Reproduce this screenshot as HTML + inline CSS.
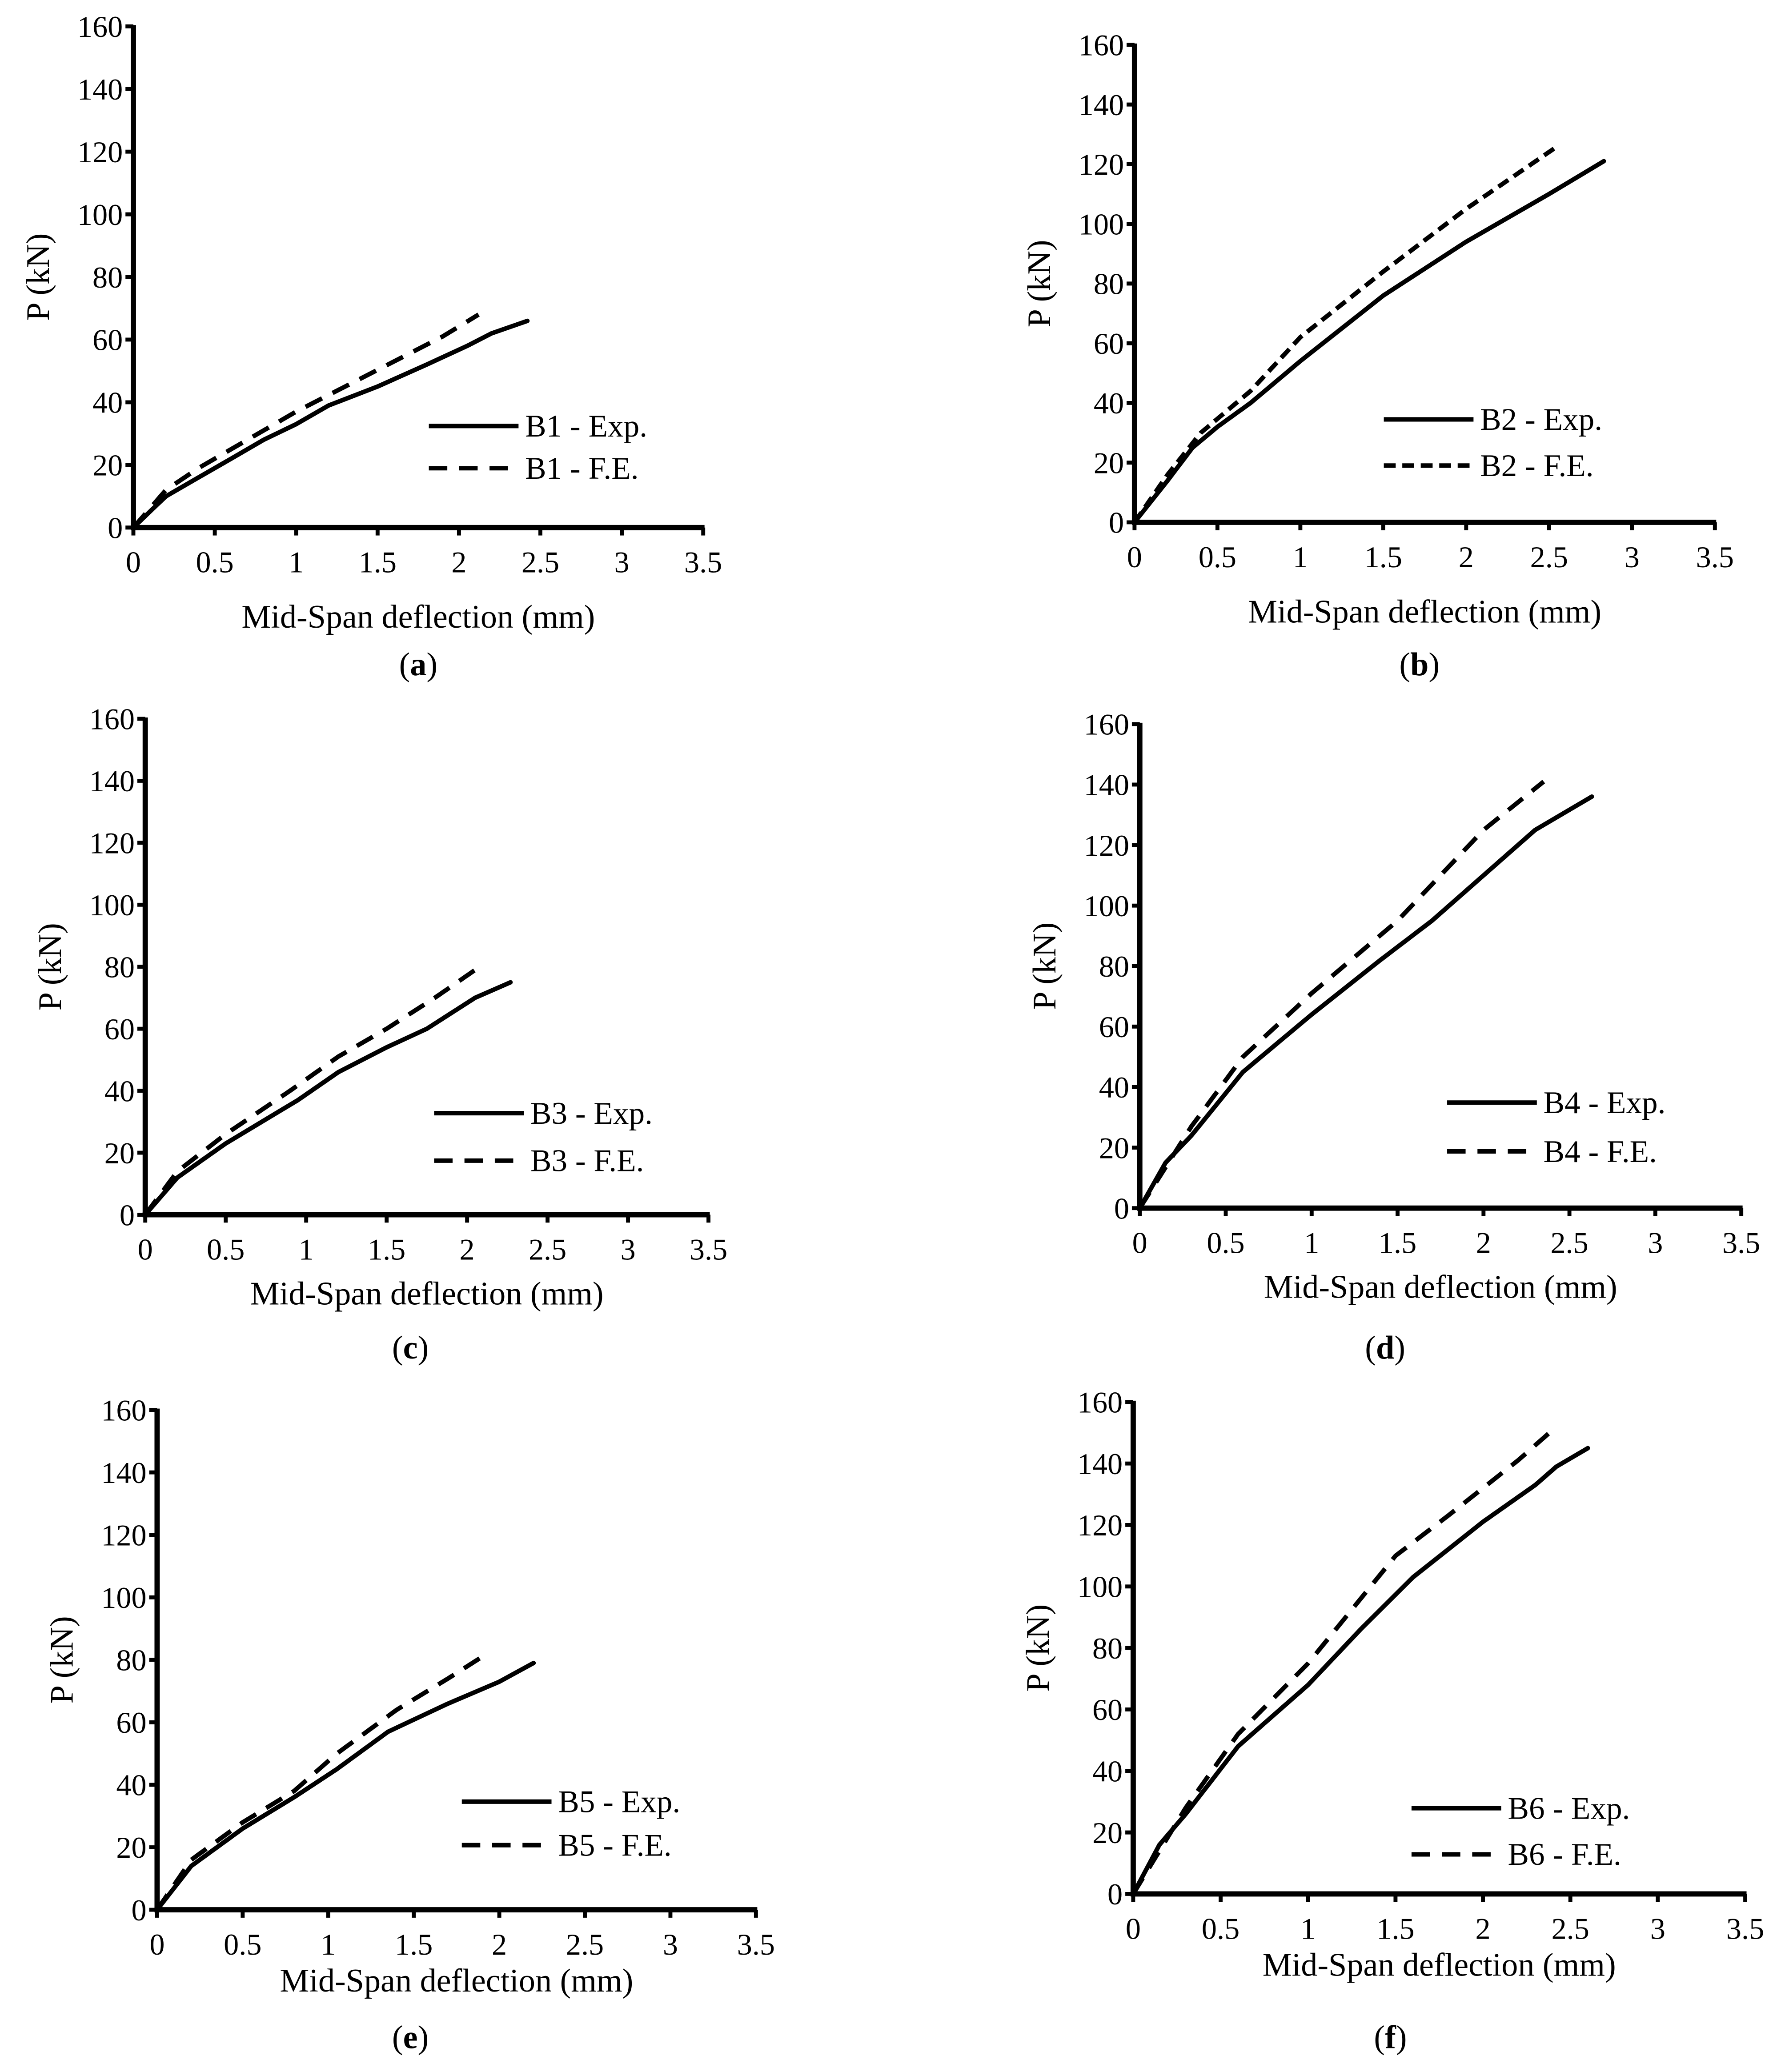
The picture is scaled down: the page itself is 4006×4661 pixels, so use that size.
<!DOCTYPE html>
<html><head><meta charset="utf-8"><style>
html,body{margin:0;padding:0;background:#fff;}
svg{display:block;}
text{font-family:"Liberation Serif","Times New Roman",serif;fill:#000;}
</style></head><body>
<svg id="fig" width="4006" height="4661" viewBox="0 0 1350 1571" xmlns="http://www.w3.org/2000/svg"></svg>
<script>
const xTicks=[0,0.5,1,1.5,2,2.5,3,3.5];
const xTickLabels=["0","0.5","1","1.5","2","2.5","3","3.5"];
const yTicks=[0,20,40,60,80,100,120,140,160];
const yTickLabels=["0","20","40","60","80","100","120","140","160"];
const panelIds=["a","b","c","d","e","f"];
const beamNames=["B1","B2","B3","B4","B5","B6"];
const aExpX=[0,0.1,0.2,0.4,0.6,0.8,1,1.2,1.5,1.8,2.05,2.2,2.42];
const aExpY=[0,5,10,16,22,28,33,39,45,52,58,62,66];
const aFeX=[0,0.2,0.4,0.6,0.8,1,1.3,1.6,1.9,2.12];
const aFeY=[0,12,19,25,31,37,45,53,61,68];
const bExpX=[0,0.2,0.35,0.5,0.7,1,1.5,2,2.5,2.83];
const bExpY=[0,14,25,32,40,54,76,94,110,121];
const bFeX=[0,0.2,0.4,0.7,1,1.5,2,2.55];
const bFeY=[0,16,30,44,62,84,105,126];
const cExpX=[0,0.2,0.5,0.95,1.2,1.5,1.75,2.05,2.27];
const cExpY=[0,12,23,37,46,54,60,70,75];
const cFeX=[0,0.2,0.5,0.9,1.2,1.5,1.8,2.05];
const cFeY=[0,14,26,40,51,60,70,79];
const dExpX=[0,0.15,0.3,0.6,1,1.4,1.7,2,2.3,2.63];
const dExpY=[0,15,24,45,64,82,95,110,125,136];
const dFeX=[0,0.3,0.6,1,1.5,2,2.35];
const dFeY=[0,27,50,71,95,125,141];
const eExpX=[0,0.2,0.5,0.8,1.05,1.35,1.7,2,2.2];
const eExpY=[0,14,26,36,45,57,66,73,79];
const eFeX=[0,0.2,0.5,0.8,1.05,1.4,1.7,1.9];
const eFeY=[0,16,28,38,50,64,74,81];
const fExpX=[0,0.15,0.3,0.6,1,1.3,1.6,2,2.3,2.42,2.6];
const fExpY=[0,16,26,48,68,86,103,121,133,139,145];
const fFeX=[0,0.3,0.6,1,1.5,1.8,2.2,2.4];
const fFeY=[0,28,52,75,110,123,141,151];

const series={a:[aExpX,aExpY,aFeX,aFeY],b:[bExpX,bExpY,bFeX,bFeY],c:[cExpX,cExpY,cFeX,cFeY],d:[dExpX,dExpY,dFeX,dFeY],e:[eExpX,eExpY,eFeX,eFeY],f:[fExpX,fExpY,fFeX,fFeY]};
const layout={
 a:{x0:101,x1:533,y0:400,y1:20,lx:325,ly1:323,ly2:355,cx:317,cy:512,dash:"14 9",tdy:76},
 b:{x0:860,x1:1300,y0:396,y1:34,lx:1049,ly1:318,ly2:353,cx:1076,cy:512,dash:"9 5",tdy:76},
 c:{x0:110,x1:537,y0:921,y1:545,lx:329,ly1:844,ly2:880,cx:311,cy:1030,dash:"14 9",tdy:68},
 d:{x0:864,x1:1320,y0:916,y1:549,lx:1097,ly1:836,ly2:873,cx:1050,cy:1030,dash:"14 9",tdy:68},
 e:{x0:119,x1:573,y0:1448,y1:1069,lx:350,ly1:1366,ly2:1399,cx:311,cy:1553,dash:"14 9",tdy:62},
 f:{x0:859,x1:1323,y0:1436,y1:1063,lx:1070,ly1:1371,ly2:1406,cx:1054,cy:1553,dash:"14 9",tdy:62}
};
const FF='"Liberation Serif","Times New Roman",serif';
const NS="http://www.w3.org/2000/svg";
const svg=document.getElementById('fig');
function mk(tag,attrs,parent){const e=document.createElementNS(NS,tag);for(const k in attrs)e.setAttribute(k,attrs[k]);if(tag==='text')e.setAttribute('font-family',FF);(parent||svg).appendChild(e);return e;}
panelIds.forEach((id,i)=>{
 const L=layout[id];
 const g=mk('g',{});
 
 
 const sx=v=>L.x0+(L.x1-L.x0)*v/3.5;
 const sy=v=>L.y0+(L.y1-L.y0)*v/160;
 const ya=mk('line',{x1:L.x0,y1:L.y0,x2:L.x0,y2:L.y1-1,stroke:'#000','stroke-width':4},g);
 
 
 const xa=mk('line',{x1:L.x0-2,y1:L.y0,x2:L.x1+1,y2:L.y0,stroke:'#000','stroke-width':4},g);
 
 
 yTicks.forEach((t,j)=>{
  mk('line',{x1:L.x0-6,y1:sy(t),x2:L.x0,y2:sy(t),stroke:'#000','stroke-width':3},g);
  const tx=mk('text',{x:L.x0-8,y:sy(t)+8,'text-anchor':'end','font-size':23},g);
  tx.textContent=yTickLabels[j];
  
  
 });
 xTicks.forEach((t,j)=>{
  mk('line',{x1:sx(t),y1:L.y0,x2:sx(t),y2:L.y0+6,stroke:'#000','stroke-width':3},g);
  const tx=mk('text',{x:sx(t),y:L.y0+34,'text-anchor':'middle','font-size':23},g);
  tx.textContent=xTickLabels[j];
  
  
 });
 const xt=mk('text',{x:(L.x0+L.x1)/2,y:L.y0+L.tdy,'text-anchor':'middle','font-size':25},g);
 xt.textContent='Mid-Span deflection (mm)';
 
 
 const yc=(L.y0+L.y1)/2;
 const yx=L.x0-64;
 const yt=mk('text',{x:yx,y:yc,'text-anchor':'middle','font-size':25,transform:`rotate(-90 ${yx} ${yc})`},g);
 yt.textContent='P (kN)';
 
 
 const s=series[id];
 const path=(xs,ys)=>xs.map((x,k)=>(k?'L':'M')+sx(x).toFixed(1)+' '+sy(ys[k]).toFixed(1)).join(' ');
 const exp=mk('path',{d:path(s[0],s[1]),fill:'none',stroke:'#000','stroke-width':3.4,'stroke-linejoin':'round','stroke-linecap':'round'},g);
 
 
 const fe=mk('path',{d:path(s[2],s[3]),fill:'none',stroke:'#000','stroke-width':3.4,'stroke-dasharray':L.dash},g);
 
 
 const l1=mk('line',{x1:L.lx,y1:L.ly1,x2:L.lx+68,y2:L.ly1,stroke:'#000','stroke-width':3.4},g);
 
 
 const t1=mk('text',{x:L.lx+73,y:L.ly1+8,'font-size':24},g);
 t1.textContent=beamNames[i]+' - Exp.';
 
 
 const l2=mk('line',{x1:L.lx,y1:L.ly2,x2:L.lx+68,y2:L.ly2,stroke:'#000','stroke-width':3.4,'stroke-dasharray':L.dash},g);
 
 
 const t2=mk('text',{x:L.lx+73,y:L.ly2+8,'font-size':24},g);
 t2.textContent=beamNames[i]+' - F.E.';
 
 
 const cap=mk('text',{x:L.cx,y:L.cy,'text-anchor':'middle','font-size':25},g);
 cap.innerHTML='(<tspan font-weight="bold">'+id+'</tspan>)';
 
 
});
</script>
</body></html>
